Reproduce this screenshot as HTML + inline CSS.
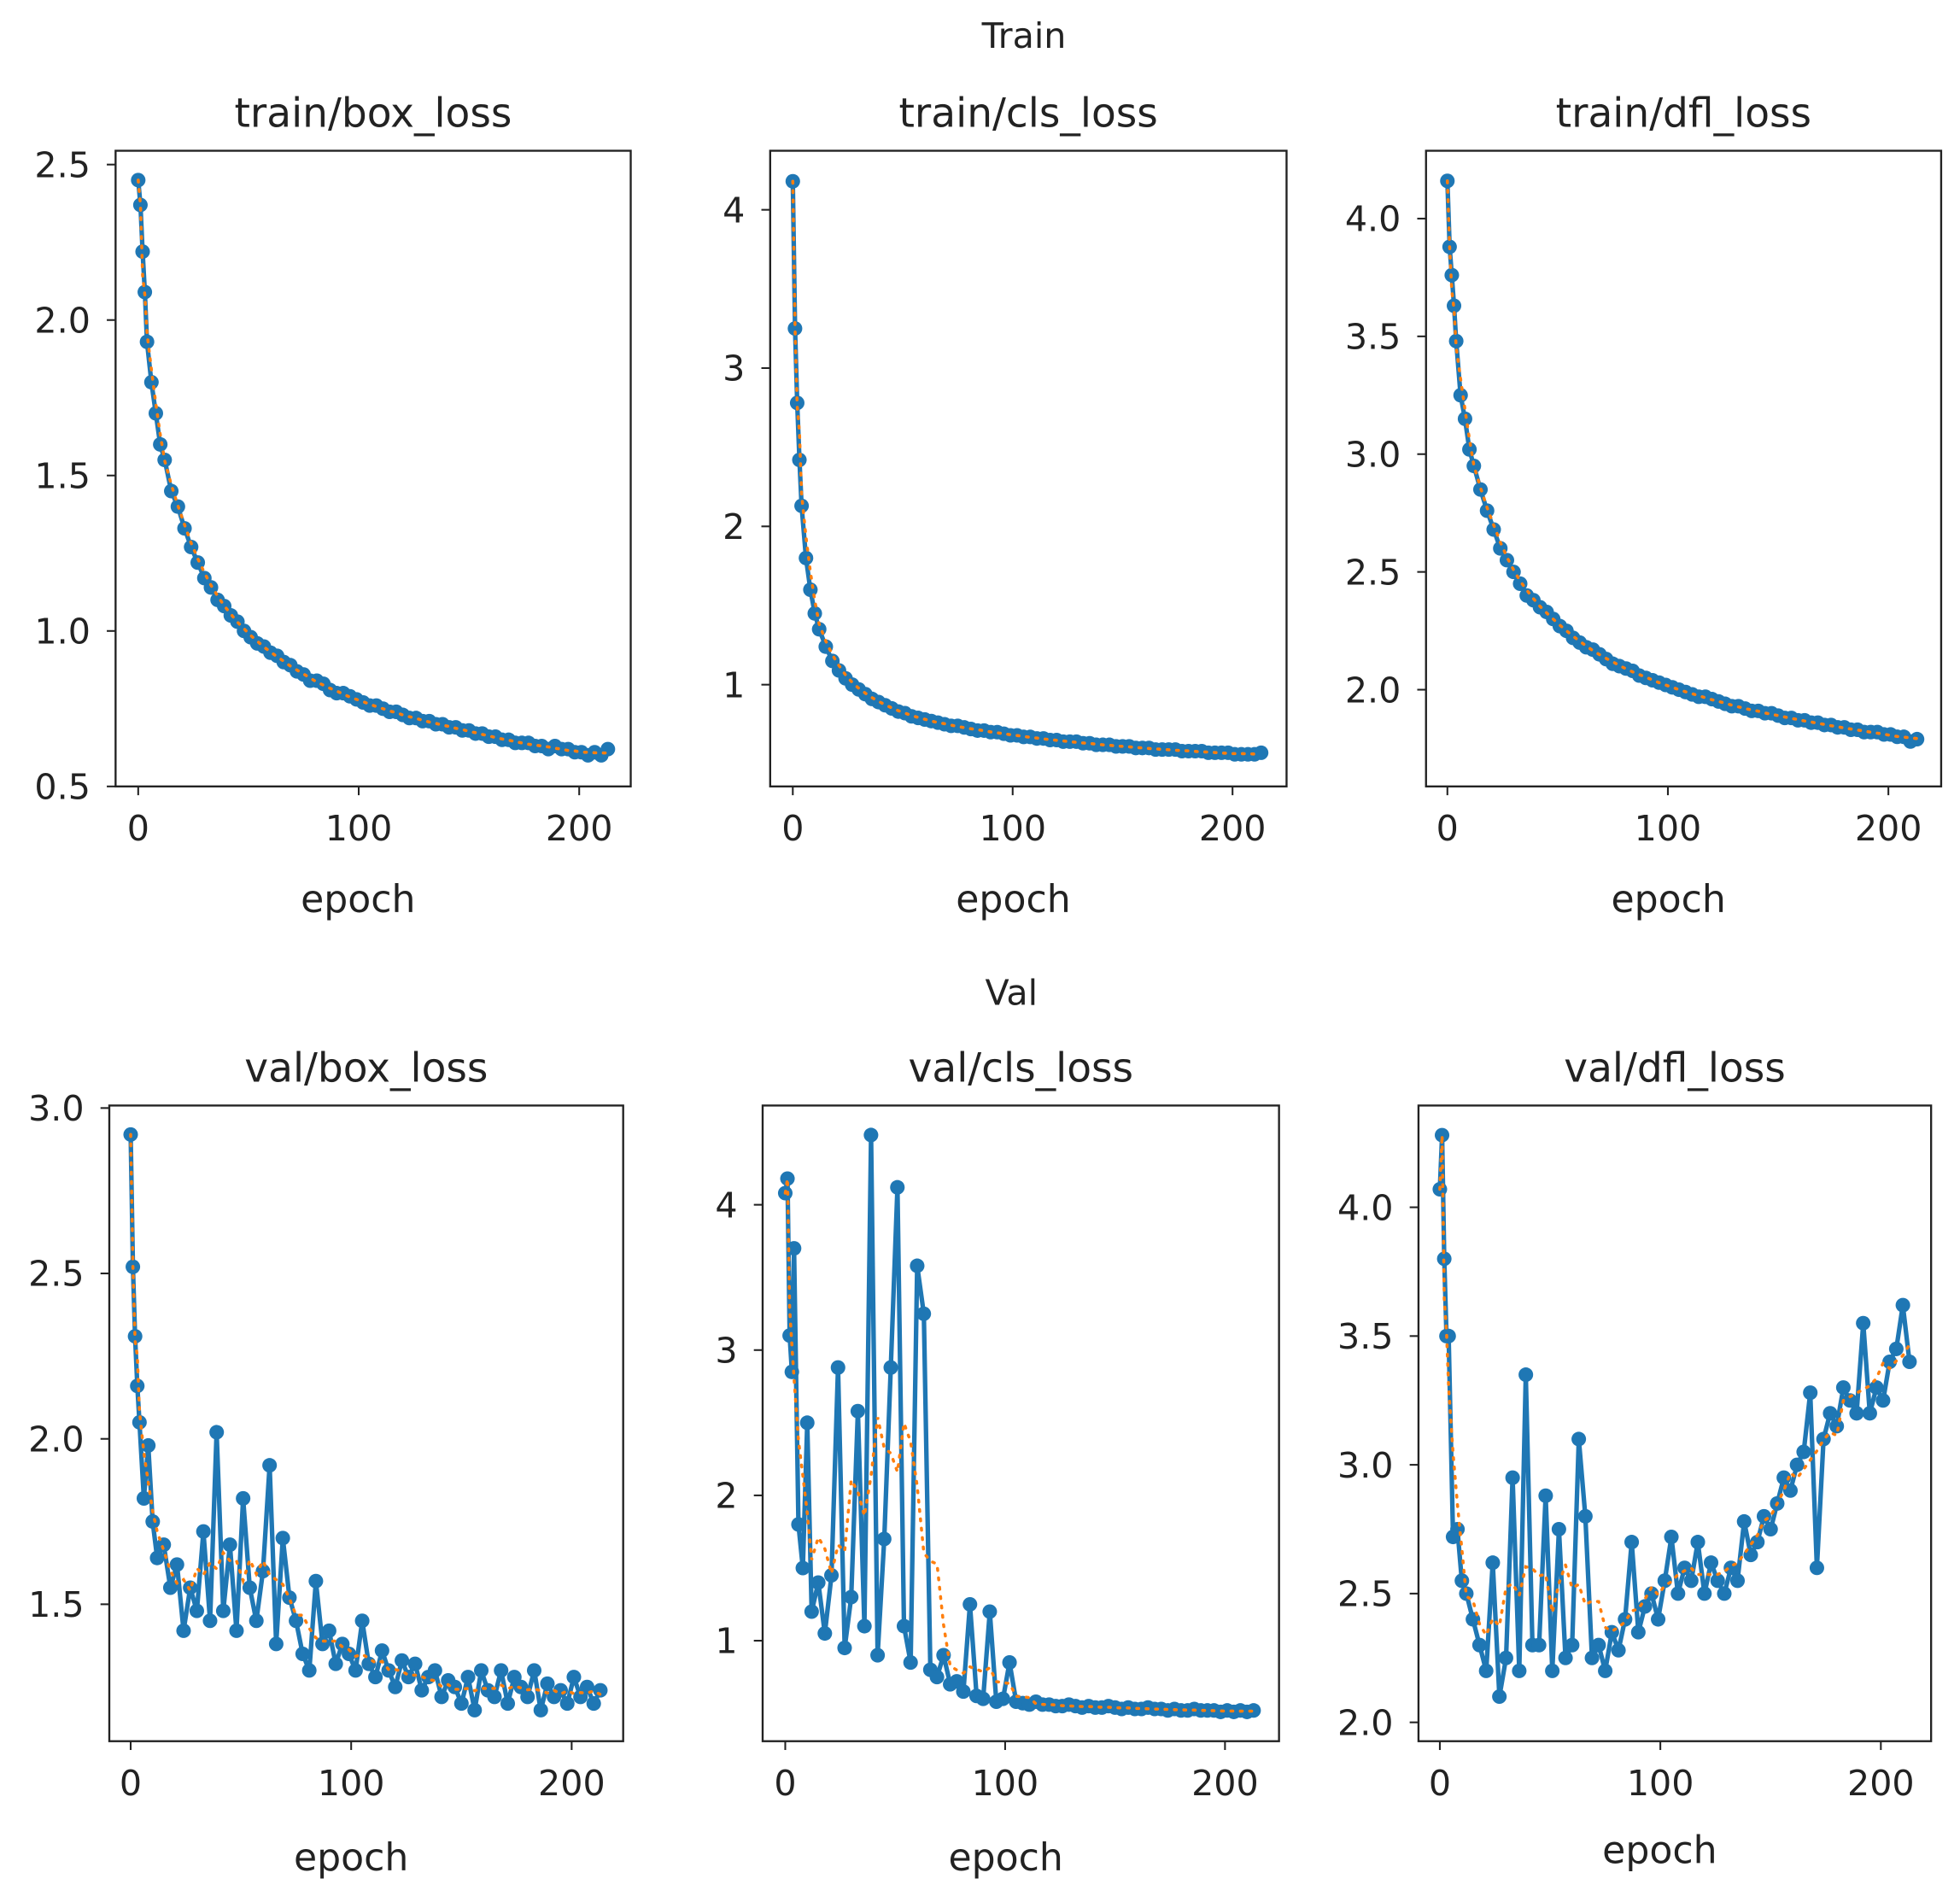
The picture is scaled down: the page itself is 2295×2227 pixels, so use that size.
<!DOCTYPE html>
<html><head><meta charset="utf-8"><style>
html,body{margin:0;padding:0;background:#fff}
svg{display:block}
text{font-family:"DejaVu Sans","Liberation Sans",sans-serif;fill:#222}
</style></head><body>
<svg id="fig" width="2295" height="2227" viewBox="0 0 1560 1514" preserveAspectRatio="none" xmlns="http://www.w3.org/2000/svg">
<rect width="1560" height="1514" fill="#fff"/>
<text x="815" y="38" font-size="28" text-anchor="middle">Train</text>
<text x="805" y="800" font-size="28" text-anchor="middle">Val</text>
</svg>
<script>
const epochs=[0,1,2,3,4,6,8,10,12,15,18,21,24,27,30,33,36,39,42,45,48,51,54,57,60,63,66,69,72,75,78,81,84,87,90,93,96,99,102,105,108,111,114,117,120,123,126,129,132,135,138,141,144,147,150,153,156,159,162,165,168,171,174,177,180,183,186,189,192,195,198,201,204,207,210,213];
const trainBox=[2.45,2.37,2.22,2.09,1.93,1.80,1.70,1.60,1.55,1.45,1.40,1.33,1.27,1.22,1.17,1.14,1.10,1.08,1.05,1.03,1.00,0.98,0.96,0.95,0.93,0.92,0.90,0.89,0.87,0.86,0.84,0.84,0.83,0.81,0.80,0.80,0.79,0.78,0.77,0.76,0.76,0.75,0.74,0.74,0.73,0.72,0.72,0.71,0.71,0.70,0.70,0.69,0.69,0.68,0.68,0.67,0.67,0.66,0.66,0.65,0.65,0.64,0.64,0.64,0.63,0.63,0.62,0.63,0.62,0.62,0.61,0.61,0.60,0.61,0.60,0.62];
const trainCls=[4.18,3.25,2.78,2.42,2.13,1.80,1.60,1.45,1.35,1.24,1.15,1.09,1.04,1.00,0.97,0.94,0.91,0.89,0.87,0.85,0.83,0.82,0.80,0.79,0.78,0.77,0.76,0.75,0.74,0.74,0.73,0.72,0.71,0.71,0.70,0.70,0.69,0.68,0.68,0.67,0.67,0.66,0.66,0.65,0.65,0.64,0.64,0.64,0.63,0.63,0.62,0.62,0.62,0.61,0.61,0.61,0.60,0.60,0.60,0.59,0.59,0.59,0.59,0.58,0.58,0.58,0.58,0.57,0.57,0.57,0.57,0.56,0.56,0.56,0.56,0.57];
const trainDfl=[4.16,3.88,3.76,3.63,3.48,3.25,3.15,3.02,2.95,2.85,2.76,2.68,2.60,2.55,2.50,2.45,2.40,2.38,2.35,2.33,2.30,2.27,2.25,2.22,2.20,2.18,2.17,2.15,2.13,2.11,2.10,2.09,2.08,2.06,2.05,2.04,2.03,2.02,2.01,2.00,1.99,1.98,1.97,1.97,1.96,1.95,1.94,1.93,1.93,1.92,1.91,1.91,1.90,1.90,1.89,1.88,1.88,1.87,1.87,1.86,1.86,1.85,1.85,1.84,1.84,1.83,1.83,1.82,1.82,1.82,1.81,1.81,1.80,1.80,1.78,1.79];
const valBox=[2.92,2.52,2.31,2.16,2.05,1.82,1.98,1.75,1.64,1.68,1.55,1.62,1.42,1.55,1.48,1.72,1.45,2.02,1.48,1.68,1.42,1.82,1.55,1.45,1.60,1.92,1.38,1.70,1.52,1.45,1.35,1.30,1.57,1.38,1.42,1.32,1.38,1.35,1.30,1.45,1.32,1.28,1.36,1.30,1.25,1.33,1.28,1.32,1.24,1.28,1.30,1.22,1.27,1.25,1.20,1.28,1.18,1.30,1.24,1.22,1.30,1.20,1.28,1.25,1.22,1.30,1.18,1.26,1.22,1.24,1.20,1.28,1.22,1.25,1.20,1.24];
const valCls=[4.08,4.18,3.10,2.85,3.70,1.80,1.50,2.50,1.20,1.40,1.05,1.45,2.88,0.95,1.30,2.58,1.10,4.48,0.90,1.70,2.88,4.12,1.10,0.85,3.58,3.25,0.80,0.75,0.90,0.70,0.72,0.65,1.25,0.62,0.60,1.20,0.58,0.60,0.85,0.58,0.57,0.56,0.58,0.56,0.56,0.55,0.55,0.56,0.55,0.54,0.55,0.54,0.54,0.55,0.54,0.53,0.54,0.53,0.53,0.54,0.53,0.53,0.52,0.53,0.52,0.52,0.53,0.52,0.52,0.52,0.51,0.52,0.51,0.52,0.51,0.52];
const valDfl=[4.07,4.28,3.80,3.50,3.50,2.72,2.75,2.55,2.50,2.40,2.30,2.20,2.62,2.10,2.25,2.95,2.20,3.35,2.30,2.30,2.88,2.20,2.75,2.25,2.30,3.10,2.80,2.25,2.30,2.20,2.35,2.28,2.40,2.70,2.35,2.45,2.50,2.40,2.55,2.72,2.50,2.60,2.55,2.70,2.50,2.62,2.55,2.50,2.60,2.55,2.78,2.65,2.70,2.80,2.75,2.85,2.95,2.90,3.00,3.05,3.28,2.60,3.10,3.20,3.15,3.30,3.25,3.20,3.55,3.20,3.30,3.25,3.40,3.45,3.62,3.40];
const xTicks=[0,100,200];
const yTicksTrainBox=["0.5","1.0","1.5","2.0","2.5"];
const yTicksTrainCls=["1","2","3","4"];
const yTicksTrainDfl=["2.0","2.5","3.0","3.5","4.0"];
const yTicksValBox=["1.5","2.0","2.5","3.0"];
const yTicksValCls=["1","2","3","4"];
const yTicksValDfl=["2.0","2.5","3.0","3.5","4.0"];

const NS="http://www.w3.org/2000/svg";
const svg=document.getElementById('fig');
function mk(tag,attrs,parent){const e=document.createElementNS(NS,tag);for(const k in attrs)e.setAttribute(k,attrs[k]);(parent||svg).appendChild(e);return e;}

const panels=[
 {name:'train-box-loss',title:'train/box_loss',data:trainBox,ticks:yTicksTrainBox,L:92,R:502,T:120,B:626,x0:110,x200:461,ya:[0.5,626],yb:[2.5,131],ey:726},
 {name:'train-cls-loss',title:'train/cls_loss',data:trainCls,ticks:yTicksTrainCls,L:613,R:1024,T:120,B:626,x0:631,x200:981,ya:[1,545],yb:[4,167],ey:726},
 {name:'train-dfl-loss',title:'train/dfl_loss',data:trainDfl,ticks:yTicksTrainDfl,L:1135,R:1545,T:120,B:626,x0:1152,x200:1503,ya:[2.0,549],yb:[4.0,174],ey:726},
 {name:'val-box-loss',title:'val/box_loss',data:valBox,ticks:yTicksValBox,L:87,R:496,T:880,B:1386,x0:104,x200:455,ya:[1.5,1277],yb:[3.0,882],ey:1489},
 {name:'val-cls-loss',title:'val/cls_loss',data:valCls,ticks:yTicksValCls,L:607,R:1018,T:880,B:1386,x0:625,x200:975,ya:[1,1306],yb:[4,959],ey:1489},
 {name:'val-dfl-loss',title:'val/dfl_loss',data:valDfl,ticks:yTicksValDfl,L:1129,R:1537,T:880,B:1386,x0:1146,x200:1497,ya:[2.0,1371],yb:[4.0,961],ey:1483}
];

panels.forEach(p=>{
 const g=mk('g',{});
 
 
 const xs=v=>p.x0+(p.x200-p.x0)*v/200;
 const ys=v=>p.ya[1]+(p.yb[1]-p.ya[1])*(v-p.ya[0])/(p.yb[0]-p.ya[0]);
 const n=Math.min(epochs.length,p.data.length);
 let d='';
 for(let i=0;i<n;i++)d+=(i?'L':'M')+xs(epochs[i]).toFixed(1)+','+ys(p.data[i]).toFixed(1);
 const line=mk('path',{d:d,fill:'none',stroke:'#1f77b4','stroke-width':3.6,'stroke-linejoin':'round'},g);
 
 
 for(let i=0;i<n;i++){
  const c=mk('circle',{cx:xs(epochs[i]),cy:ys(p.data[i]),r:5.8,fill:'#1f77b4'},g);
  
  
 }
 let sd='';
 for(let i=0;i<n;i++){
  let s=0,c=0;for(let j=Math.max(0,i-3);j<=Math.min(n-1,i+3);j++){s+=p.data[j];c++;}
  const v=i<2?p.data[i]:s/c;
  sd+=(i?'L':'M')+xs(epochs[i]).toFixed(1)+','+ys(v).toFixed(1);
 }
 const sm=mk('path',{d:sd,fill:'none',stroke:'#ff7f0e','stroke-width':2.4,'stroke-dasharray':'1.5 6','stroke-linecap':'round'},g);
 
 
 const fr=mk('rect',{x:p.L,y:p.T,width:p.R-p.L,height:p.B-p.T,fill:'none',stroke:'#222','stroke-width':1.6},g);
 
 
 xTicks.forEach(t=>{
  const x=xs(t);
  mk('line',{x1:x,x2:x,y1:p.B,y2:p.B+7,stroke:'#222','stroke-width':1.4},g);
  const tl=mk('text',{x:x,y:p.B+43,'font-size':28,'text-anchor':'middle'},g);
  tl.textContent=String(t);
  
  
 });
 p.ticks.forEach(t=>{
  const y=ys(parseFloat(t));
  mk('line',{x1:p.L-7,x2:p.L,y1:y,y2:y,stroke:'#222','stroke-width':1.4},g);
  const tl=mk('text',{x:p.L-20,y:y+10,'font-size':28,'text-anchor':'end'},g);
  tl.textContent=t;
  
  
 });
 const ti=mk('text',{x:(p.L+p.R)/2,y:p.T-19,'font-size':32,'text-anchor':'middle'},g);
 ti.textContent=p.title;
 
 
 const xl=mk('text',{x:(p.L+p.R)/2-12,y:p.ey,'font-size':30,'text-anchor':'middle'},g);
 xl.textContent='epoch';
 
 
});
</script>
</body></html>
